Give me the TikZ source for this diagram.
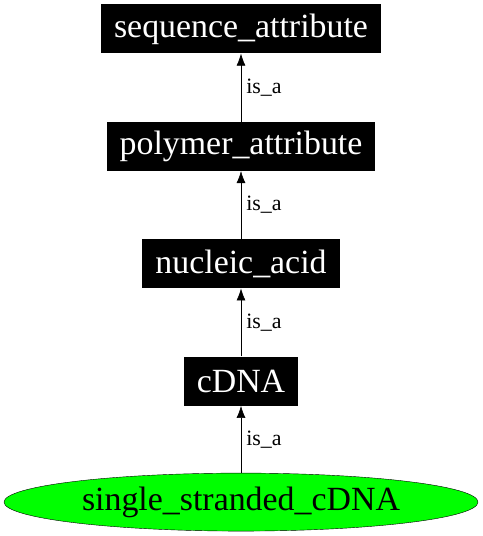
\documentclass[tikz,border=0pt]{standalone}
\usepackage{fontspec}
\setmainfont{Liberation Serif}
\usetikzlibrary{positioning,shapes.geometric,arrows.meta}
\tikzset{
  termbox/.style={fill=black, text=white, inner xsep=13bp, inner ysep=0pt,
    minimum height=49bp, font=\fontsize{34}{40}\selectfont},
  isa/.style={-{Latex[length=12bp,width=9bp]}, semithick},
  isalabel/.style={right, inner sep=5bp, font=\fontsize{22}{26}\selectfont}
}
\begin{document}
\begin{tikzpicture}
    \useasboundingbox (0,0) rectangle (483bp,536bp) ;
    \node[termbox] (seqattr) at (241bp, 507bp) {sequence\_attribute} ;
    \node[termbox, below=68bp of seqattr] (polyattr) {polymer\_attribute} ;
    \node[termbox, below=68bp of polyattr] (nucacid) {nucleic\_acid} ;
    \node[termbox, below=68bp of nucacid] (cdna) {cDNA} ;
    \node[ellipse, draw=black, fill={rgb,255:red,0;green,255;blue,0},
      minimum width=474bp, minimum height=58bp, inner sep=0pt,
      font=\fontsize{34}{40}\selectfont, below=67bp of cdna] (sscdna) {single\_stranded\_cDNA} ;
    \draw[isa] (polyattr) -- node[isalabel] {is\_a} (seqattr) ;
    \draw[isa] (nucacid) -- node[isalabel] {is\_a} (polyattr) ;
    \draw[isa] (cdna) -- node[isalabel] {is\_a} (nucacid) ;
    \draw[isa] (sscdna) -- node[isalabel] {is\_a} (cdna) ;
  \end{tikzpicture}
\end{document}
